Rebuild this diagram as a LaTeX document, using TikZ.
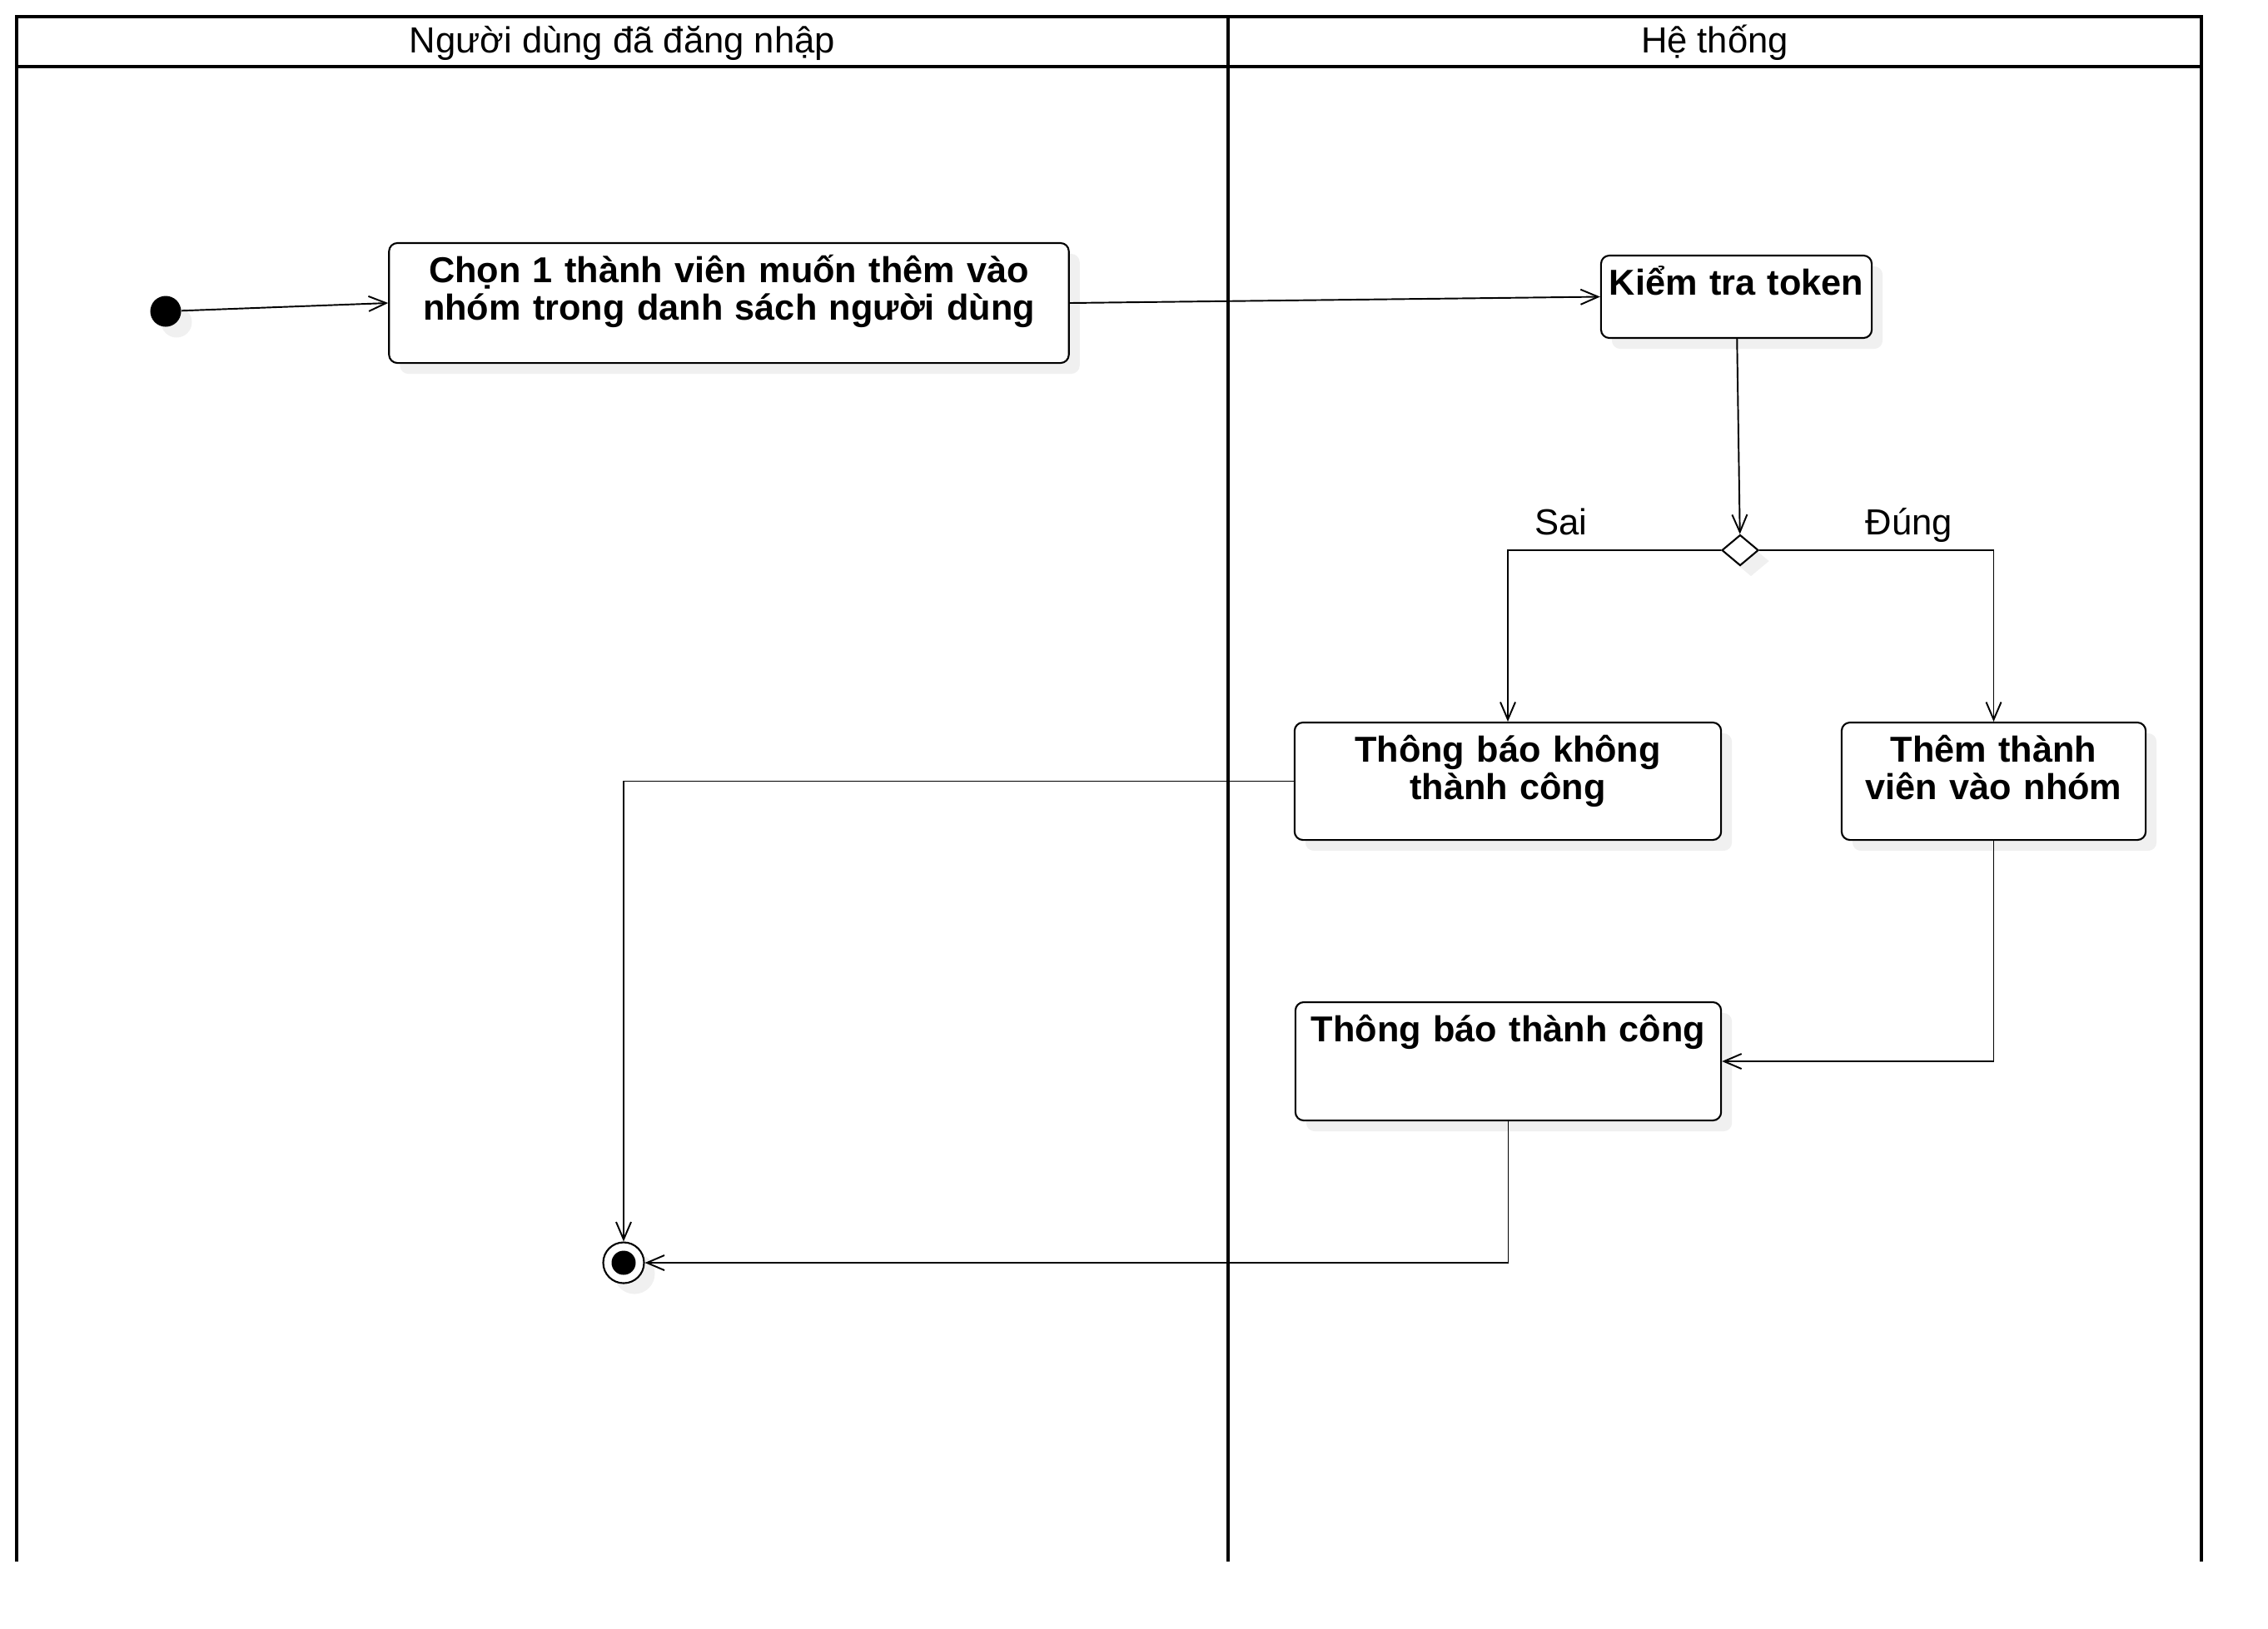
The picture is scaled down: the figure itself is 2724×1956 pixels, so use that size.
\documentclass[tikz,border=0pt]{standalone}
\usepackage{fontspec}
\setmainfont{Liberation Sans}
\usetikzlibrary{
		arrows.meta,
		shapes.geometric,
		shadows
	}
\definecolor{shadowgray}{RGB}{240,240,240}
\tikzset{
		>={Straight Barb[length=2.1mm,width=1.8mm]}
	}
\newcommand{\actfont}{\fontsize{12.3}{12.8}\selectfont\bfseries\lineskiplimit=-\maxdimen}
\newcommand{\lanefont}{\fontsize{12.4}{15}\selectfont}
\tikzset{
		flatshadow/.style={general shadow={fill=shadowgray, shadow xshift=0.13cm, shadow yshift=-0.13cm}},
		lane/.style={line width=1pt},
		lanetitle/.style={font=\lanefont, anchor=base},
		action/.style={draw, line width=0.6pt, rounded corners=0.1cm, fill=white, flatshadow,
			align=center, font=\actfont, inner sep=0pt, text height=0.47cm},
		decision/.style={diamond, draw, line width=0.6pt, fill=white, flatshadow, inner sep=0pt,
			minimum width=0.44cm, minimum height=0.37cm},
		startnode/.style={circle, fill=black, flatshadow, inner sep=0pt, minimum size=0.37cm},
		endnode/.style={circle, draw, line width=0.6pt, fill=white, flatshadow, inner sep=0pt, minimum size=0.49cm,
			path picture={\fill[black] (path picture bounding box.center) circle (0.145cm);}},
		flow/.style={->, line width=0.55pt},
		guard/.style={font=\lanefont, anchor=base}
	}

\begin{document}
\begin{tikzpicture}[x=0.01cm, y=-0.01cm]
          \useasboundingbox (0,0) rectangle (2724,1956);

          \draw[lane] (20,1876) -- (20,20) -- (2644,20) -- (2644,1876);
          \draw[lane] (20,80) -- (2644,80);
          \draw[lane] (1475,20) -- (1475,1876);
          \node[lanetitle] (nguoidung) at (747.5,63) {Người dùng đã đăng nhập};
          \node[lanetitle] (hethong) at (2059.5,63) {Hệ thống};

          \node[startnode] (batdau) at (199,374) {};
          \node[action, text width=8.16cm, text depth=0.97cm] (chon) at (875.5,364)
               {Chọn 1 thành viên muốn thêm vào\\nhóm trong danh sách người dùng};
          \node[action, text width=3.25cm, text depth=0.52cm] (token) at (2085.5,356.5) {Kiểm tra token};
          \node[decision] (kiemtra) at (2090,661) {};
          \node[action, text width=5.12cm, text depth=0.94cm] (thatbai) at (1811,938.5)
               {Thông báo không\\thành công};
          \node[action, text width=3.65cm, text depth=0.94cm] (them) at (2394.5,938.5)
               {Thêm thành\\viên vào nhóm};
          \node[action, text width=5.11cm, text depth=0.95cm] (thanhcong) at (1811.5,1275)
               {Thông báo thành công};
          \node[endnode] (ketthuc) at (749,1517) {};

          \node[guard] (sai) at (1875,642) {Sai};
          \node[guard] (dung) at (2293,642) {Đúng};

          \draw[flow] (batdau) -- (chon.west);
          \draw[flow] (chon.east) -- (token.west);
          \draw[flow] (token) -- (kiemtra);
          \draw[flow] (kiemtra.west) -| (thatbai.north);
          \draw[flow] (kiemtra.east) -| (them.north);
          \draw[flow] (them.south) |- (thanhcong.east);
          \draw[flow] (thatbai.west) -| (ketthuc.north);
          \draw[flow] (thanhcong.south) |- (ketthuc.east);

          \end{tikzpicture}
\end{document}
